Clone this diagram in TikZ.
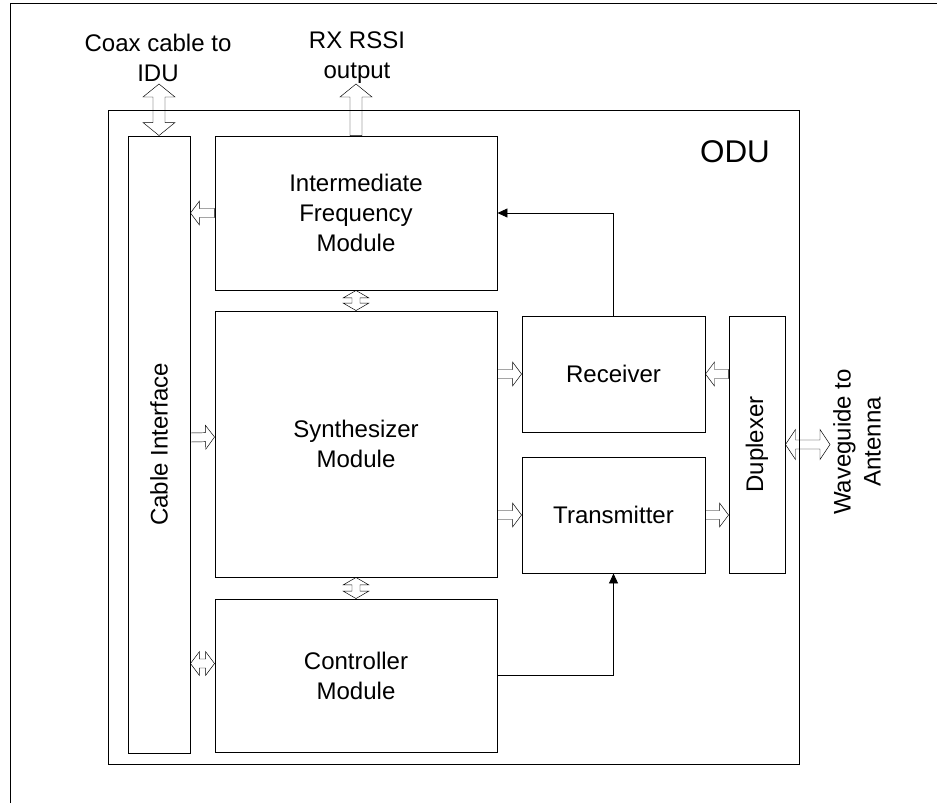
\documentclass[tikz,border=0pt]{standalone}
\usepackage{fontspec}
\setmainfont{Liberation Sans}
\usetikzlibrary{calc,arrows.meta}
\tikzset{
  blk/.style={draw, line width=0.8pt, inner sep=0pt},
  lbl/.style={align=center, font=\fontsize{20.5}{25.5}\selectfont},
  sig/.style={line width=0.8pt, -{Triangle[length=0.3cm,width=0.27cm]}},
  hollow/.style n args={3}{line width=0.7pt, to path={
    ($(\tikztostart)!#3!90:(\tikztotarget)$)
    -- ($(\tikztotarget)!#1!(\tikztostart)!#3!-90:(\tikztostart)$)
    -- ($(\tikztotarget)!#1!(\tikztostart)!#2!-90:(\tikztostart)$)
    -- (\tikztotarget)
    -- ($(\tikztotarget)!#1!(\tikztostart)!#2!90:(\tikztostart)$)
    -- ($(\tikztotarget)!#1!(\tikztostart)!#3!90:(\tikztostart)$)
    -- ($(\tikztostart)!#3!-90:(\tikztotarget)$) -- cycle}},
  hollowtwo/.style n args={3}{line width=0.7pt, to path={
    (\tikztostart)
    -- ($(\tikztostart)!#1!(\tikztotarget)!#2!90:(\tikztotarget)$)
    -- ($(\tikztostart)!#1!(\tikztotarget)!#3!90:(\tikztotarget)$)
    -- ($(\tikztotarget)!#1!(\tikztostart)!#3!-90:(\tikztostart)$)
    -- ($(\tikztotarget)!#1!(\tikztostart)!#2!-90:(\tikztostart)$)
    -- (\tikztotarget)
    -- ($(\tikztotarget)!#1!(\tikztostart)!#2!90:(\tikztostart)$)
    -- ($(\tikztotarget)!#1!(\tikztostart)!#3!90:(\tikztostart)$)
    -- ($(\tikztostart)!#1!(\tikztotarget)!#3!-90:(\tikztotarget)$)
    -- ($(\tikztostart)!#1!(\tikztotarget)!#2!-90:(\tikztotarget)$)
    -- cycle}}
}
\begin{document}
\begin{tikzpicture}[x=0.03cm,y=-0.03cm]
\useasboundingbox (0,0) rectangle (937,803);
\draw[line width=0.8pt] (10,803)--(10,3)--(937,3);
% outdoor unit frame
\node[blk, minimum width=20.73cm, minimum height=19.62cm] (odu) at (453.5,437) {};
\node[lbl, font=\fontsize{26.8}{30}\selectfont] (odutxt) at (735,152) {ODU};
% blocks
\node[blk, minimum width=1.86cm, minimum height=18.51cm] (cab) at (159,444.5) {};
\node[lbl, rotate=90] (cabtxt) at (cab) {Cable Interface};
\node[blk, lbl, minimum width=8.46cm, minimum height=4.62cm] (ifm) at (356,213) {Intermediate\\Frequency\\Module};
\node[blk, lbl, minimum width=8.46cm, minimum height=7.98cm] (syn) at (356,444) {Synthesizer\\Module};
\node[blk, lbl, minimum width=8.46cm, minimum height=4.59cm] (ctl) at (356,675.5) {Controller\\Module};
\node[blk, lbl, minimum width=5.49cm, minimum height=3.48cm] (rx) at (613.5,374) {Receiver};
\node[blk, lbl, minimum width=5.49cm, minimum height=3.48cm] (tx) at (613.5,515) {Transmitter};
\node[blk, minimum width=1.68cm, minimum height=7.71cm] (dup) at (757,444.5) {};
\node[lbl, rotate=90] (duptxt) at (dup) {Duplexer};
% outside ends
\coordinate (coax) at (159,84);
\coordinate (rssi) at (356,84);
\coordinate (wg) at (830,444.5);
\node[lbl] (coaxtxt) at (158,58) {Coax cable to\\IDU};
\node[lbl] (rssitxt) at (357,58) {RX RSSI\\output};
\node[lbl, rotate=90] (wgtxt) at (857,442) {Waveguide to\\Antenna};
% hollow arrows
\draw (coax) to[hollowtwo={0.39cm}{0.48cm}{0.18cm}] (cab.north);
\draw (ifm.north) to[hollow={0.39cm}{0.48cm}{0.18cm}] (rssi);
\draw (ifm.west) to[hollow={0.27cm}{0.36cm}{0.135cm}] (cab.east |- ifm.west);
\draw (ifm.south) to[hollowtwo={0.22cm}{0.38cm}{0.12cm}] (syn.north);
\draw (syn.south) to[hollowtwo={0.22cm}{0.38cm}{0.12cm}] (ctl.north);
\draw ([yshift=0.21cm]cab.east) to[hollow={0.27cm}{0.36cm}{0.135cm}] ([yshift=0.21cm]syn.west);
\draw ([yshift=0.36cm]cab.east |- ctl.west) to[hollowtwo={0.27cm}{0.36cm}{0.135cm}] ([yshift=0.36cm]ctl.west);
\draw (syn.east |- rx.west) to[hollow={0.27cm}{0.36cm}{0.135cm}] (rx.west);
\draw (syn.east |- tx.west) to[hollow={0.27cm}{0.36cm}{0.135cm}] (tx.west);
\draw (dup.west |- rx.east) to[hollow={0.27cm}{0.36cm}{0.135cm}] (rx.east);
\draw (tx.east) to[hollow={0.27cm}{0.36cm}{0.135cm}] (dup.west |- tx.east);
\draw (dup.east) to[hollowtwo={0.3cm}{0.45cm}{0.135cm}] (wg);
% signal lines
\draw[sig] (rx.north) |- (ifm.east);
\draw[sig] (ctl.east) -| (tx.south);
\end{tikzpicture}
\end{document}
